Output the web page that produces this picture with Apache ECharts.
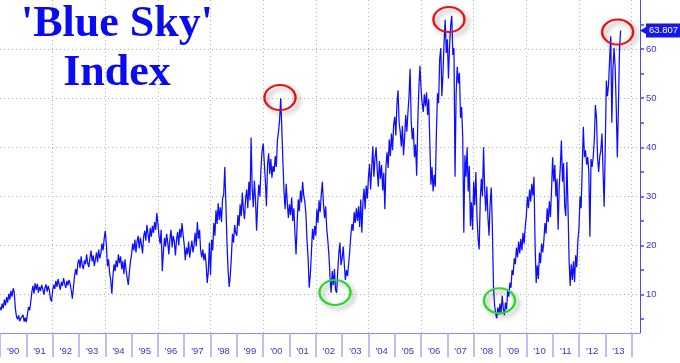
<!DOCTYPE html>
<html><head><meta charset="utf-8">
<script src="https://cdn.jsdelivr.net/npm/echarts@6/dist/echarts.min.js"></script>
<style>html,body{margin:0;padding:0;background:#fff}#c{width:680px;height:363px}</style>
</head><body><div id="c"></div>
<script>
// ---- data (half-monthly readings) ----
const startYear = 1990;
const stepsPerYear = 24;
const values = [
/*1990*/ 7.5,6.8,8.2,7.2,9.0,7.8,9.5,8.4,10.2,9.0,10.8,9.6,11.3,10.5,7.2,5.6,5.0,5.8,4.6,5.2,4.8,5.9,4.5,5.3,
/*1991*/ 4.4,6.0,7.5,6.8,8.4,10.5,11.8,10.2,12.3,11.0,12.2,10.4,11.6,10.8,12.0,11.2,10.0,11.4,12.1,10.6,11.8,10.9,9.2,8.6,
/*1992*/ 10.8,12.0,11.2,12.8,11.6,13.2,12.0,11.0,12.6,11.8,13.4,12.2,11.4,12.8,11.9,13.0,12.2,10.8,9.2,11.6,13.8,15.2,14.0,16.4,
/*1993*/ 17.2,15.4,17.8,16.0,15.2,17.0,16.2,18.2,16.4,15.6,17.4,19.0,16.8,18.0,15.8,17.2,18.6,16.6,19.2,17.4,18.4,20.4,19.0,21.4,
/*1994*/ 23.0,20.2,15.8,17.2,14.4,13.0,10.2,13.8,16.2,14.8,17.0,15.6,18.2,16.4,17.8,15.2,16.8,14.2,17.2,15.0,13.4,12.0,14.6,16.8,
/*1995*/ 18.2,20.4,19.0,21.2,18.6,20.8,22.0,19.4,21.6,20.2,18.4,21.8,23.0,21.0,24.2,22.4,20.6,23.6,21.8,24.0,22.6,24.8,23.2,26.6,
/*1996*/ 24.6,22.0,20.4,23.2,14.8,18.6,21.6,19.8,22.4,20.6,18.2,21.4,23.2,19.6,22.0,20.8,18.0,21.2,22.8,20.0,23.4,21.6,24.6,22.2,
/*1997*/ 20.2,17.0,19.6,18.2,20.8,17.6,19.4,21.0,18.6,20.2,22.6,19.8,24.8,21.4,23.2,19.0,17.6,19.2,17.0,18.4,16.2,12.4,14.8,20.6,
/*1998*/ 14.0,21.2,19.0,24.6,22.0,27.2,24.4,28.6,25.2,27.8,24.8,29.6,30.4,36.0,28.6,20.6,15.0,11.6,13.8,17.6,22.4,20.6,24.2,22.6,
/*1999*/ 22.0,26.2,24.0,28.4,26.0,30.8,27.2,25.4,29.6,31.4,27.6,33.0,29.2,42.0,31.6,27.8,33.2,29.4,23.0,28.6,32.4,30.0,35.6,39.2,
/*2000*/ 40.8,37.0,33.2,28.0,36.4,38.8,34.6,37.6,33.8,36.2,35.0,38.2,36.0,41.4,43.2,45.6,50.0,44.0,37.2,31.0,27.4,32.6,28.8,25.6,
/*2001*/ 28.4,26.2,29.8,25.0,27.6,22.4,18.2,24.6,29.4,27.0,31.2,28.8,33.0,30.2,29.0,26.4,21.0,17.4,11.4,14.0,18.6,23.4,21.2,24.0,
/*2002*/ 22.0,27.4,24.6,29.2,26.8,30.4,33.0,28.4,25.6,28.0,23.4,21.0,18.0,13.6,10.4,14.8,12.0,15.2,11.0,10.4,14.6,18.4,20.6,16.0,
/*2003*/ 17.4,19.8,16.2,13.0,15.0,13.8,16.4,19.0,22.2,24.4,23.0,26.8,24.6,27.6,25.0,28.0,23.8,29.4,22.6,28.8,31.6,27.4,32.2,29.6,
/*2004*/ 33.8,36.6,31.4,35.8,40.2,34.0,37.8,40.0,35.4,32.0,37.2,33.6,36.4,31.2,34.8,27.4,36.2,39.0,35.8,41.6,38.2,42.8,39.4,44.6,
/*2005*/ 46.2,42.4,48.8,51.6,45.0,43.2,40.2,44.4,38.4,42.0,46.6,43.2,47.0,50.2,56.0,45.4,41.6,44.0,38.0,40.6,34.2,45.0,52.0,56.6,
/*2006*/ 52.0,49.0,47.2,50.8,48.4,51.2,46.6,49.8,41.0,32.4,36.0,31.0,34.4,32.0,43.0,51.0,49.0,58.0,60.2,50.4,55.0,61.4,66.0,59.2,
/*2007*/ 62.0,54.0,60.6,64.8,66.8,58.8,60.2,34.0,51.0,56.4,53.0,55.2,46.0,48.2,42.0,22.6,38.4,34.0,40.0,31.0,36.2,24.0,28.8,23.2,
/*2008*/ 33.0,28.2,35.0,26.0,21.4,19.2,29.4,33.6,30.0,40.0,31.6,27.0,32.0,25.8,22.0,28.6,31.8,24.0,12.0,8.0,6.2,5.2,7.4,6.0,
/*2009*/ 8.2,6.0,9.8,7.2,5.8,8.4,7.0,10.8,9.6,12.4,11.4,15.0,14.0,17.4,16.2,19.6,17.6,20.8,18.4,21.4,19.0,22.6,20.4,23.8,
/*2010*/ 26.0,30.0,27.6,31.4,29.0,32.6,30.2,34.0,20.0,12.4,16.0,13.2,18.6,16.4,20.4,18.6,21.0,24.6,22.4,27.6,24.8,29.0,25.8,31.2,
/*2011*/ 38.0,33.0,36.4,30.0,33.6,23.2,32.0,36.0,41.4,33.0,36.8,28.0,26.0,37.0,28.0,17.0,11.8,16.2,13.0,16.8,12.6,18.0,15.6,21.0,
/*2012*/ 23.4,30.0,27.6,36.0,44.2,38.0,39.4,36.5,38.0,35.0,21.8,37.6,36.0,38.0,41.5,48.6,46.0,37.8,35.0,38.2,39.4,42.8,35.0,27.9,
/*2013*/ 40.0,53.6,50.4,52.8,58.0,62.6,45.0,56.0,60.2,56.4,48.2,38.0,48.0,60.0,63.807
];
const lastLabel = '63.807';
const yearTicks = [1990,1991,1992,1993,1994,1995,1996,1997,1998,1999,2000,2001,2002,2003,2004,2005,2006,2007,2008,2009,2010,2011,2012,2013,2014];
const yearLabels = [1990,1991,1992,1993,1994,1995,1996,1997,1998,1999,2000,2001,2002,2003,2004,2005,2006,2007,2008,2009,2010,2011,2012,2013];
const gridYears = [1992,1994,1996,1998,2000,2002,2004,2006,2008,2010,2012,2014];
const yTickValues = [5,10,15,20,25,30,35,40,45,50,55,60,65];
const yLabelValues = [10,20,30,40,50,60];
const redCircles = [[2000.64,50.15],[2007.06,66.03],[2013.47,63.48]];
const greenCircles = [[2002.73,10.45],[2008.98,8.78]];
const titleLines = ["'Blue Sky'", "Index"];

// ---- chart ----
const X_MIN = 1990, X_MAX = 2014.32, Y_MIN = 2.2, Y_MAX = 70;
const data = values.map((v, i) => [startYear + i / stepsPerYear, v]);
const lastValue = values[values.length - 1];
const ellipse = 'path://M0,50 A50,50 0 1,1 100,50 A50,50 0 1,1 0,50 Z';
const circleStyle = c => ({color: 'rgba(0,0,0,0)', borderColor: c, borderWidth: 2.2,
  shadowBlur: 5, shadowColor: 'rgba(0,0,0,0.35)', shadowOffsetX: 3, shadowOffsetY: 3});
const gridDot = {color: '#b4b4b4', width: 1, type: [1, 3]};
const labelBlue = '#3535d5';

const chart = echarts.init(document.getElementById('c'), null, {renderer: 'canvas'});
chart.setOption({
  animation: false,
  backgroundColor: '#ffffff',
  grid: {left: 0, right: 40, top: 0, bottom: 30, containLabel: false},
  xAxis: [
    {type: 'value', min: X_MIN, max: X_MAX,
      axisLine: {show: true, lineStyle: {color: '#8c8cf0', width: 1}},
      axisTick: {show: true, customValues: yearTicks, length: 24, lineStyle: {color: '#a9a9f4', width: 1.5}},
      axisLabel: {customValues: yearLabels.map(y => y + 0.5),
        formatter: v => "'" + String(Math.floor(v)).slice(2),
        color: labelBlue, fontSize: 9.5, fontFamily: 'Liberation Sans', margin: 13},
      splitLine: {show: false}},
    {type: 'value', min: X_MIN, max: X_MAX,
      axisLine: {show: false}, axisTick: {show: false, customValues: gridYears},
      axisLabel: {show: false}, splitLine: {show: true, lineStyle: gridDot}}
  ],
  yAxis: [
    {type: 'value', position: 'right', min: Y_MIN, max: Y_MAX,
      axisLine: {show: true, lineStyle: {color: '#4a4af0', width: 1}},
      axisTick: {show: true, customValues: yTickValues, length: 4, inside: false, lineStyle: {color: '#4a4af0', width: 1.5}},
      axisLabel: {customValues: yLabelValues, color: labelBlue, fontSize: 9.5, fontFamily: 'Liberation Sans', margin: 6},
      splitLine: {show: false}},
    {type: 'value', position: 'right', min: Y_MIN, max: Y_MAX,
      axisLine: {show: false}, axisTick: {show: false, customValues: yLabelValues},
      axisLabel: {show: false}, splitLine: {show: true, lineStyle: gridDot}}
  ],
  graphic: titleLines.map((t, i) => ({
    type: 'text', x: 117, y: 24.5 + i * 49, z: 10,
    style: {text: t, font: 'bold 44px "Liberation Serif"', fill: '#0b0bf0', align: 'center', verticalAlign: 'middle'}
  })),
  series: [{
    type: 'line', xAxisIndex: 0, yAxisIndex: 0, data: data,
    showSymbol: false, symbol: 'none', z: 3, clip: false,
    lineStyle: {color: '#0d0dff', width: 1.25},
    markPoint: {silent: true, label: {show: false},
      data: [
        {coord: [X_MAX, lastValue], symbol: 'triangle', symbolRotate: 90, symbolSize: [7, 6], symbolOffset: [3, 0],
          itemStyle: {color: '#1717e8'},
          label: {show: true, position: 'right', distance: 0, formatter: lastLabel, backgroundColor: '#1717e8', color: '#ffffff',
            padding: [2, 6, 2, 3], fontSize: 9.5, fontFamily: 'Liberation Sans'}},
        ...redCircles.map(c => ({coord: c, symbol: ellipse, symbolSize: [31, 25], itemStyle: circleStyle('#ee1111')})),
        ...greenCircles.map(c => ({coord: c, symbol: ellipse, symbolSize: [31, 25], itemStyle: circleStyle('#22dd22')}))
      ]}
  }]
});
</script></body></html>
